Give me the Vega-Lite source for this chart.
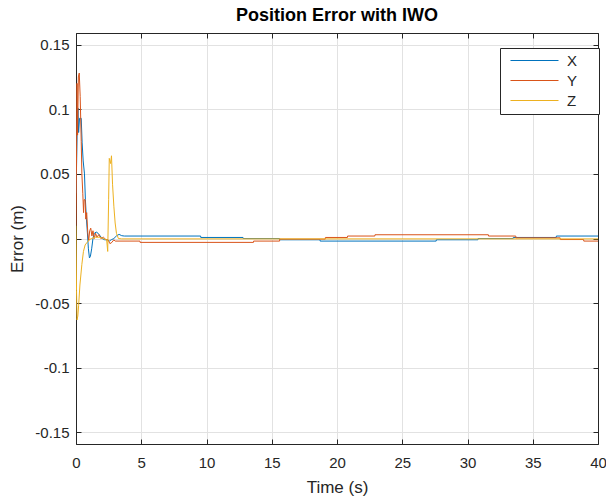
{
  "$schema": "https://vega.github.io/schema/vega-lite/v6.json",
  "width": 522,
  "height": 411,
  "autosize": {"type": "none"},
  "padding": {"left": 76, "top": 33, "right": 8, "bottom": 57},
  "background": "white",
  "title": {"text": "Position Error with IWO", "fontSize": 18, "fontWeight": "bold", "font": "Liberation Sans", "color": "#000000", "offset": 8, "anchor": "middle"},
  "config": {
    "view": {"stroke": "#262626", "strokeWidth": 1},
    "axis": {
      "labelFont": "Liberation Sans", "labelFontSize": 15, "labelColor": "#262626",
      "titleFont": "Liberation Sans", "titleFontSize": 17, "titleColor": "#262626", "titleFontWeight": "normal",
      "domainColor": "#262626", "tickColor": "#262626", "tickSize": -5, "labelFlush": false,
      "gridColor": "#e2e2e2", "gridWidth": 1
    }
  },
  "data": {"values": [
    {"s":"X","t":0,"v":0.035},{"s":"X","t":0.05,"v":0.06},{"s":"X","t":0.1,"v":0.09},{"s":"X","t":0.15,"v":0.101},{"s":"X","t":0.2,"v":0.082},{"s":"X","t":0.27,"v":0.093},{"s":"X","t":0.4,"v":0.093},{"s":"X","t":0.47,"v":0.074},{"s":"X","t":0.55,"v":0.06},{"s":"X","t":0.65,"v":0.05},{"s":"X","t":0.72,"v":0.03},{"s":"X","t":0.8,"v":0.015},{"s":"X","t":0.87,"v":0.005},{"s":"X","t":0.95,"v":-0.008},{"s":"X","t":1.03,"v":-0.015},{"s":"X","t":1.1,"v":-0.014},{"s":"X","t":1.2,"v":-0.008},{"s":"X","t":1.3,"v":0.0},{"s":"X","t":1.4,"v":0.004},{"s":"X","t":1.55,"v":0.005},{"s":"X","t":1.7,"v":0.004},{"s":"X","t":1.85,"v":0.002},{"s":"X","t":2.0,"v":0.0},{"s":"X","t":2.2,"v":-0.001},{"s":"X","t":2.4,"v":-0.001},{"s":"X","t":2.55,"v":-0.002},{"s":"X","t":2.7,"v":-0.001},{"s":"X","t":2.9,"v":0.0},{"s":"X","t":3.1,"v":0.002},{"s":"X","t":3.3,"v":0.0032},{"s":"X","t":3.5,"v":0.0022},{"s":"X","t":3.7,"v":0.0019},{"s":"X","t":9.55,"v":0.0019},{"s":"X","t":9.56,"v":0.0008},{"s":"X","t":12.8,"v":0.0008},{"s":"X","t":12.81,"v":0.0},{"s":"X","t":15.6,"v":0.0},{"s":"X","t":15.61,"v":-0.001},{"s":"X","t":18.7,"v":-0.001},{"s":"X","t":18.71,"v":-0.002},{"s":"X","t":27.6,"v":-0.002},{"s":"X","t":27.61,"v":-0.001},{"s":"X","t":30.8,"v":-0.001},{"s":"X","t":30.81,"v":0.0},{"s":"X","t":33.5,"v":0.0},{"s":"X","t":33.51,"v":0.0008},{"s":"X","t":36.8,"v":0.0008},{"s":"X","t":36.81,"v":0.0019},{"s":"X","t":40,"v":0.0019},
    {"s":"Y","t":0,"v":0.01},{"s":"Y","t":0.03,"v":0.05},{"s":"Y","t":0.08,"v":0.12},{"s":"Y","t":0.12,"v":0.08},{"s":"Y","t":0.18,"v":0.125},{"s":"Y","t":0.25,"v":0.128},{"s":"Y","t":0.32,"v":0.11},{"s":"Y","t":0.4,"v":0.075},{"s":"Y","t":0.45,"v":0.05},{"s":"Y","t":0.52,"v":0.035},{"s":"Y","t":0.58,"v":0.02},{"s":"Y","t":0.62,"v":0.03},{"s":"Y","t":0.7,"v":0.03},{"s":"Y","t":0.75,"v":0.015},{"s":"Y","t":0.82,"v":0.02},{"s":"Y","t":0.9,"v":0.005},{"s":"Y","t":0.97,"v":-0.002},{"s":"Y","t":1.05,"v":0.006},{"s":"Y","t":1.13,"v":0.008},{"s":"Y","t":1.22,"v":0.002},{"s":"Y","t":1.3,"v":0.006},{"s":"Y","t":1.4,"v":0.0},{"s":"Y","t":1.5,"v":0.004},{"s":"Y","t":1.6,"v":0.001},{"s":"Y","t":1.75,"v":0.003},{"s":"Y","t":1.9,"v":0.0},{"s":"Y","t":2.1,"v":0.001},{"s":"Y","t":2.3,"v":-0.001},{"s":"Y","t":2.45,"v":-0.001},{"s":"Y","t":2.6,"v":-0.004},{"s":"Y","t":2.75,"v":-0.003},{"s":"Y","t":2.9,"v":-0.001},{"s":"Y","t":3.0,"v":-0.002},{"s":"Y","t":4.9,"v":-0.002},{"s":"Y","t":4.91,"v":-0.003},{"s":"Y","t":13.6,"v":-0.003},{"s":"Y","t":13.61,"v":-0.002},{"s":"Y","t":15.6,"v":-0.002},{"s":"Y","t":15.61,"v":-0.0005},{"s":"Y","t":19.1,"v":-0.0005},{"s":"Y","t":19.11,"v":0.0008},{"s":"Y","t":20.8,"v":0.0008},{"s":"Y","t":20.81,"v":0.0019},{"s":"Y","t":22.9,"v":0.0019},{"s":"Y","t":22.91,"v":0.0029},{"s":"Y","t":31.6,"v":0.0029},{"s":"Y","t":31.61,"v":0.0019},{"s":"Y","t":33.7,"v":0.0019},{"s":"Y","t":33.71,"v":0.0005},{"s":"Y","t":37.1,"v":0.0005},{"s":"Y","t":37.11,"v":-0.0008},{"s":"Y","t":38.9,"v":-0.0008},{"s":"Y","t":38.91,"v":-0.002},{"s":"Y","t":40,"v":-0.002},
    {"s":"Z","t":0,"v":0.01},{"s":"Z","t":0.04,"v":-0.04},{"s":"Z","t":0.08,"v":-0.063},{"s":"Z","t":0.14,"v":-0.06},{"s":"Z","t":0.2,"v":-0.052},{"s":"Z","t":0.3,"v":-0.036},{"s":"Z","t":0.45,"v":-0.02},{"s":"Z","t":0.57,"v":-0.01},{"s":"Z","t":0.7,"v":-0.005},{"s":"Z","t":0.85,"v":-0.003},{"s":"Z","t":1.0,"v":-0.001},{"s":"Z","t":1.2,"v":0.0},{"s":"Z","t":1.5,"v":0.001},{"s":"Z","t":1.8,"v":0.001},{"s":"Z","t":2.1,"v":0.0},{"s":"Z","t":2.35,"v":-0.001},{"s":"Z","t":2.43,"v":-0.01},{"s":"Z","t":2.5,"v":0.03},{"s":"Z","t":2.55,"v":0.062},{"s":"Z","t":2.65,"v":0.058},{"s":"Z","t":2.72,"v":0.064},{"s":"Z","t":2.8,"v":0.042},{"s":"Z","t":2.9,"v":0.025},{"s":"Z","t":3.0,"v":0.012},{"s":"Z","t":3.1,"v":0.004},{"s":"Z","t":3.25,"v":0.0},{"s":"Z","t":3.5,"v":-0.0003},{"s":"Z","t":40,"v":-0.0003}
  ]},
  "layer": [
    {
      "mark": {"type": "line", "strokeWidth": 1, "clip": true},
      "encoding": {
        "x": {"field": "t", "type": "quantitative", "scale": {"domain": [0, 40], "nice": false},
              "axis": {"values": [0,5,10,15,20,25,30,35,40], "title": "Time (s)", "labelPadding": 16, "titlePadding": 9, "labelExpr": "'' + datum.value"}},
        "y": {"field": "v", "type": "quantitative", "scale": {"domain": [-0.159, 0.159], "nice": false, "zero": false},
              "axis": {"values": [-0.15,-0.1,-0.05,0,0.05,0.1,0.15], "title": "Error (m)", "labelPadding": 12, "titlePadding": 8, "labelExpr": "'' + datum.value"}},
        "color": {"field": "s", "type": "nominal", "scale": {"domain": ["X","Y","Z"], "range": ["#0072BD","#D95319","#EDB120"]},
                  "legend": {"orient": "none", "legendX": 424, "legendY": 15, "title": " ", "titleOrient": "right", "titlePadding": 17,
                             "symbolType": "M-3.43,0H3.43", "symbolSize": 196, "symbolStrokeWidth": 1, "symbolOffset": 22,
                             "labelFont": "Liberation Sans", "labelFontSize": 15, "labelColor": "#262626", "labelOffset": 25,
                             "strokeColor": "#262626", "fillColor": "white", "padding": 5, "rowPadding": 4}}
      }
    },
    {
      "mark": {"type": "line", "opacity": 0},
      "encoding": {
        "x": {"field": "t", "type": "quantitative", "axis": {"orient": "top", "values": [0,5,10,15,20,25,30,35,40], "labels": false, "title": null, "grid": false}},
        "y": {"field": "v", "type": "quantitative", "axis": {"orient": "right", "values": [-0.15,-0.1,-0.05,0,0.05,0.1,0.15], "labels": false, "title": null, "grid": false}}
      }
    }
  ],
  "resolve": {"axis": {"x": "independent", "y": "independent"}}
}
